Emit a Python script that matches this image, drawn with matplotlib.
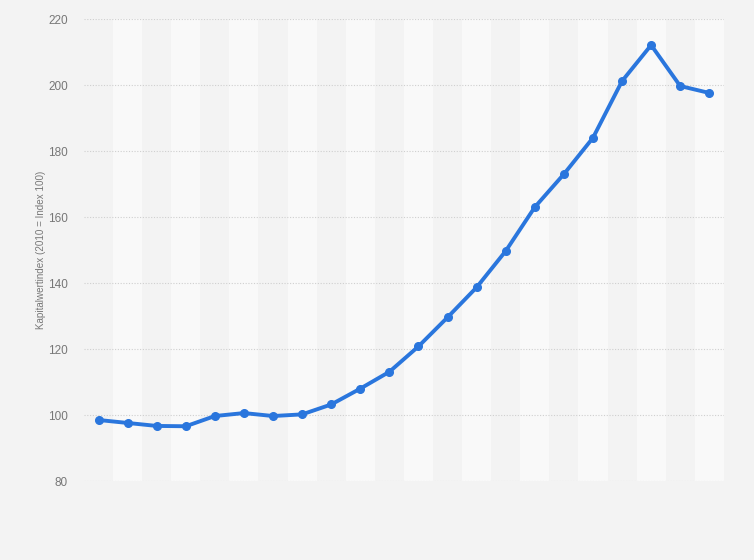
import matplotlib.pyplot as plt
import numpy as np

plt.rcParams["font.family"] = ["Liberation Sans", "DejaVu Sans"]

# index values, 22 yearly points (x labels are not shown in the chart)
values = [98.5, 97.6, 96.7, 96.6, 99.7, 100.6, 99.7, 100.2, 103.2, 108.0, 113.1,
          120.8, 129.6, 138.7, 149.7, 163.0, 173.0, 184.0, 201.2, 212.1, 199.7, 197.6]
y_ticks = [80, 100, 120, 140, 160, 180, 200, 220]
y_label = "Kapitalwertindex (2010 = Index 100)"

bg = "#f3f3f3"
fig = plt.figure(figsize=(7.54, 5.6), dpi=100, facecolor=bg)
ax = fig.add_axes([0.1114, 0.141, 0.8486, 0.825])
ax.set_facecolor(bg)

x = np.arange(len(values))
for i in x:
    if i % 2 == 1:
        ax.axvspan(i - 0.5, i + 0.5, color="#f9f9f9", lw=0, zorder=0)

ax.plot(x, values, color="#2a76dd", lw=2.8, marker="o", ms=5.5,
        solid_joinstyle="round", zorder=3)

ax.set_xlim(-0.5, len(values) - 0.5)
ax.set_ylim(80, 220)
ax.set_yticks(y_ticks)
ax.set_xticks([])
ax.grid(axis="y", color="#cfcfcf", linestyle=(0, (1, 1.5)), lw=0.8, zorder=1)
ax.tick_params(axis="y", length=0, pad=11.5, labelsize=8.5, labelcolor="#777777")
for s in ax.spines.values():
    s.set_visible(False)

ax.set_ylabel(y_label, fontsize=7.1, color="#777777", labelpad=1.5)

fig.savefig("out.png", dpi=100, facecolor=bg)
